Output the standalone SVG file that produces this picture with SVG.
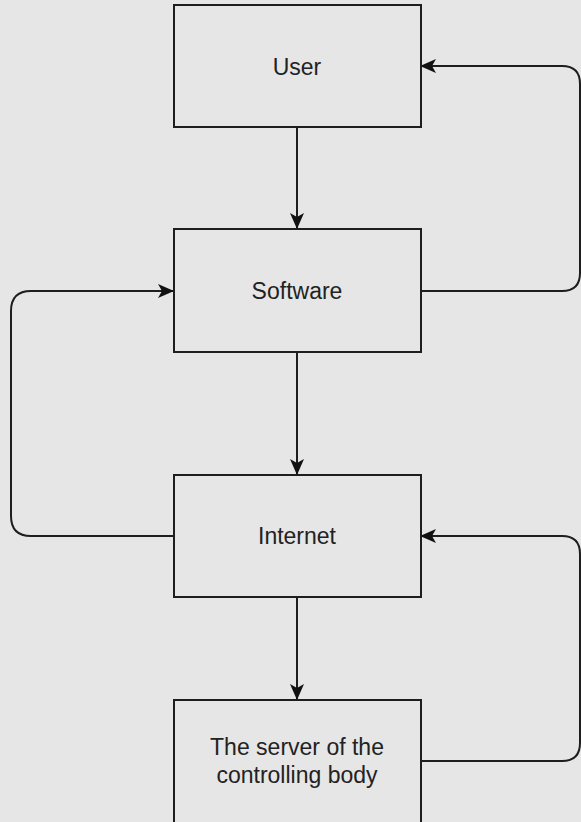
<svg xmlns="http://www.w3.org/2000/svg" width="581" height="822" viewBox="0 0 581 822">
<style>
.box{fill:#e6e6e6;stroke:#1e1e1e;stroke-width:2}
.lbl{font-family:"Liberation Sans",Arial,sans-serif;font-size:23px;fill:#222;text-anchor:middle}
.edge{fill:none;stroke:#1e1e1e;stroke-width:2}
</style>
<defs>
<marker id="ah" viewBox="0 0 16 14" refX="15" refY="7" markerWidth="16" markerHeight="14" markerUnits="userSpaceOnUse" orient="auto">
<path d="M0,0 L16,7 L0,14 L4,7 Z" fill="#111"/>
</marker>
</defs>
<rect width="581" height="822" fill="#e6e6e6"/>
<g id="connectors">
<path class="edge" d="M297,127 L297,228" marker-end="url(#ah)"/>
<path class="edge" d="M297,352 L297,474" marker-end="url(#ah)"/>
<path class="edge" d="M297,597 L297,699" marker-end="url(#ah)"/>
<path class="edge" d="M421,291 L562,291 Q580,291 580,273 L580,84 Q580,66 562,66 L421,66" marker-end="url(#ah)"/>
<path class="edge" d="M421,761 L562,761 Q580,761 580,743 L580,554 Q580,536 562,536 L421,536" marker-end="url(#ah)"/>
<path class="edge" d="M174,536 L31,536 Q11,536 11,516 L11,311 Q11,291 31,291 L173,291" marker-end="url(#ah)"/>
</g>
<g id="user">
<rect class="box" x="174" y="5" width="247" height="122"/>
<text class="lbl" x="297" y="75">User</text>
</g>
<g id="software">
<rect class="box" x="174" y="229" width="247" height="123"/>
<text class="lbl" x="297" y="299">Software</text>
</g>
<g id="internet">
<rect class="box" x="174" y="475" width="247" height="122"/>
<text class="lbl" x="297" y="544">Internet</text>
</g>
<g id="server">
<rect class="box" x="174" y="700" width="247" height="124"/>
<text class="lbl" x="297" y="755">The server of the</text>
<text class="lbl" x="297" y="783">controlling body</text>
</g>
</svg>
